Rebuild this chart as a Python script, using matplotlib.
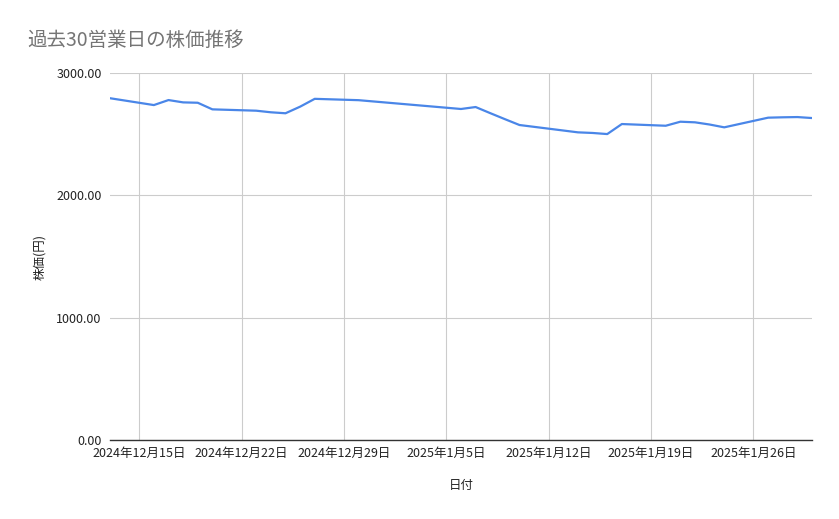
import matplotlib
matplotlib.use("Agg")
import matplotlib.pyplot as plt
import matplotlib.dates as mdates
import matplotlib.ticker as mticker
from datetime import datetime

plt.rcParams["font.family"] = ["Noto Sans CJK JP", "DejaVu Sans"]
plt.rcParams["axes.unicode_minus"] = False

# 過去30営業日の終値 (読み取り値)
dates = [
    "2024-12-13", "2024-12-16", "2024-12-17", "2024-12-18", "2024-12-19",
    "2024-12-20", "2024-12-23", "2024-12-24", "2024-12-25", "2024-12-26",
    "2024-12-27", "2024-12-30", "2025-01-06", "2025-01-07", "2025-01-08",
    "2025-01-09", "2025-01-10", "2025-01-14", "2025-01-15", "2025-01-16",
    "2025-01-17", "2025-01-20", "2025-01-21", "2025-01-22", "2025-01-23",
    "2025-01-24", "2025-01-27", "2025-01-28", "2025-01-29", "2025-01-30",
]
prices = [
    2794, 2738, 2779, 2760, 2757,
    2703, 2692, 2679, 2671, 2725,
    2789, 2778, 2706, 2722, 2672,
    2623, 2575, 2515, 2510, 2501,
    2583, 2569, 2602, 2597, 2579,
    2556, 2635, 2638, 2640, 2632,
]
y_ticks = [0, 1000, 2000, 3000]

x = [datetime.fromisoformat(d) for d in dates]

fig = plt.figure(figsize=(8.39, 5.19), dpi=100)
ax = fig.add_axes([0.1311, 0.1522, 0.8367, 0.7071])

ax.plot(x, prices, color="#4a86e8", linewidth=1.6, solid_joinstyle="round")

ax.set_xlim(x[0], x[-1])
ax.set_ylim(0, 3000)
ax.set_yticks(y_ticks)
ax.yaxis.set_major_formatter(mticker.FuncFormatter(lambda v, p: f"{v:.2f}"))

ax.xaxis.set_major_locator(mdates.WeekdayLocator(byweekday=mdates.SU))
ax.xaxis.set_major_formatter(
    mticker.FuncFormatter(lambda v, p: (lambda d: f"{d.year}年{d.month}月{d.day}日")(mdates.num2date(v)))
)

ax.grid(True, color="#cccccc", linewidth=0.8)
ax.set_axisbelow(True)
for s in ["top", "right", "left"]:
    ax.spines[s].set_visible(False)
ax.spines["bottom"].set_color("#333333")
ax.spines["bottom"].set_linewidth(1.0)
ax.spines["bottom"].set_zorder(3)

ax.tick_params(axis="both", length=0, labelsize=9, colors="#222222", pad=6)
ax.tick_params(axis="x", pad=5)

ax.set_xlabel("日付", fontsize=9, color="#222222", labelpad=14)
ax.set_ylabel("株価(円)", fontsize=9, color="#222222", labelpad=7)

fig.text(27 / 839, 1 - 40 / 519, "過去30営業日の株価推移", fontsize=14, color="#757575",
         ha="left", va="center")

fig.savefig("out.png", dpi=100, facecolor="white")
